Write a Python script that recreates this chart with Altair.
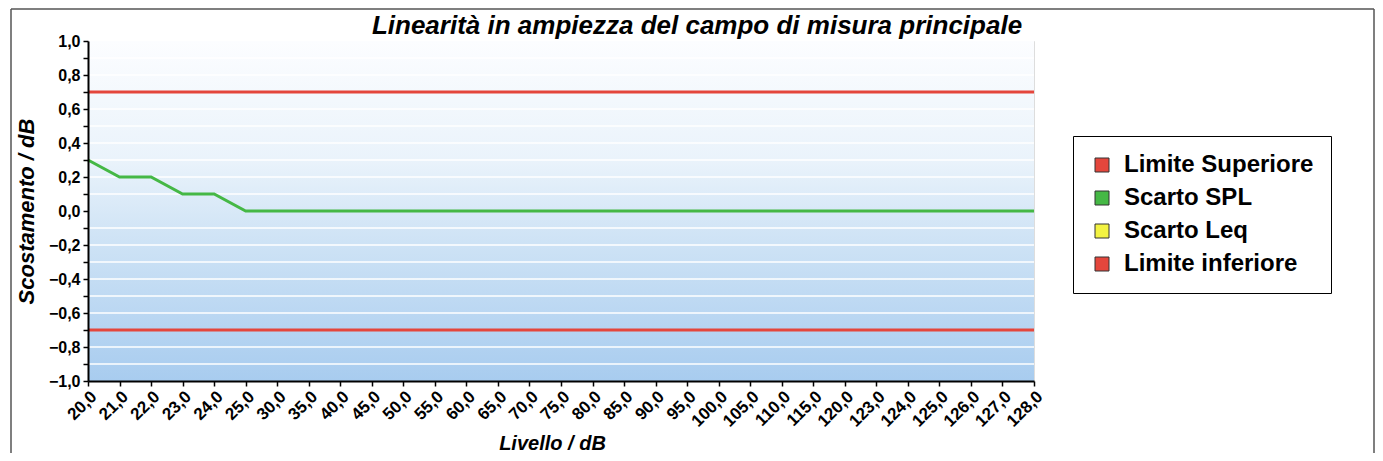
import altair as alt
import pandas as pd

levels = ["20,0", "21,0", "22,0", "23,0", "24,0", "25,0", "30,0", "35,0", "40,0", "45,0",
          "50,0", "55,0", "60,0", "65,0", "70,0", "75,0", "80,0", "85,0", "90,0", "95,0",
          "100,0", "105,0", "110,0", "115,0", "120,0", "123,0", "124,0", "125,0", "126,0",
          "127,0", "128,0"]
limite_superiore = [0.7] * len(levels)
scarto_spl = [0.3, 0.2, 0.2, 0.1, 0.1, 0.0, 0.0, 0.0, 0.0, 0.0,
              0.0, 0.0, 0.0, 0.0, 0.0, 0.0, 0.0, 0.0, 0.0, 0.0,
              0.0, 0.0, 0.0, 0.0, 0.0, 0.0, 0.0, 0.0, 0.0, 0.0, 0.0]
limite_inferiore = [-0.7] * len(levels)

series_names = ["Limite Superiore", "Scarto SPL", "Scarto Leq", "Limite inferiore"]
series_colors = ["#e4463c", "#45b845", "#f3f342", "#e4463c"]
y_ticks = [-1.0, -0.9, -0.8, -0.7, -0.6, -0.5, -0.4, -0.3, -0.2, -0.1, 0.0,
           0.1, 0.2, 0.3, 0.4, 0.5, 0.6, 0.7, 0.8, 0.9, 1.0]
grid_values = [-0.9, -0.8, -0.6, -0.5, -0.4, -0.3, -0.2, -0.1,
               0.1, 0.2, 0.3, 0.4, 0.5, 0.6, 0.8, 0.9]
title_text = "Linearità in ampiezza del campo di misura principale"

rows = []
for name, vals in [("Limite Superiore", limite_superiore),
                   ("Scarto SPL", scarto_spl),
                   ("Limite inferiore", limite_inferiore)]:
    for lv, v in zip(levels, vals):
        rows.append({"level": lv, "series": name, "value": v})
df = pd.DataFrame(rows)
legend_df = pd.DataFrame({"voce": series_names})

bg = pd.DataFrame({"lo": [-1.0], "hi": [1.0]})
grid_df = pd.DataFrame({"g": grid_values})
one = pd.DataFrame({"a": [0]})

yscale = alt.Scale(domain=[-1.0, 1.0], nice=False, zero=False)
xscale = alt.Scale(padding=0)

yaxis = alt.Axis(
    values=y_ticks,
    labelExpr="round(datum.value*10) % 2 != 0 ? '' : replace(format(datum.value, '.1f'), '.', ',')",
    grid=False,
    tickSize=5, tickColor="black", tickWidth=1.5,
    domainColor="black", domainWidth=2,
    labelFont="Arial", labelFontSize=16, labelFontWeight="bold", labelColor="black",
    labelPadding=3,
    title="Scostamento / dB",
    titleFont="Arial", titleFontSize=22, titleFontWeight="bold", titleFontStyle="italic",
    titleColor="black", titlePadding=10,
    zindex=1,
)

xaxis = alt.Axis(labelAngle=-45, labelFont="Arial", labelFontSize=17,
                 labelFontWeight="bold", labelColor="black", labelPadding=2,
                 tickSize=5, tickColor="black", tickWidth=1.5,
                 domainColor="black", domainWidth=2, grid=False,
                 title="Livello / dB", titleFont="Arial", titleFontSize=20,
                 titleFontWeight="bold", titleFontStyle="italic", titleColor="black",
                 titleX=464, titleY=52, titleBaseline="top", titleAlign="center",
                 zindex=1)

gradient = alt.Gradient(
    gradient="linear",
    stops=[alt.GradientStop(color="#fcfdff", offset=0),
           alt.GradientStop(color="#eaf3fb", offset=0.35),
           alt.GradientStop(color="#d2e5f6", offset=0.55),
           alt.GradientStop(color="#a8ccef", offset=1)],
    x1=0, x2=0, y1=0, y2=1,
)

background = alt.Chart(bg).mark_rect(fill=gradient).encode(
    x=alt.value(0), x2=alt.value("width"),
    y=alt.Y("lo:Q", scale=yscale, axis=yaxis),
    y2="hi:Q",
)

grid = alt.Chart(grid_df).mark_rule(color="white", strokeWidth=1.5).encode(
    y=alt.Y("g:Q", scale=yscale, axis=yaxis),
)

lines = alt.Chart(df).mark_line(strokeWidth=3).encode(
    x=alt.X("level:O", sort=levels, scale=xscale, axis=xaxis),
    y=alt.Y("value:Q", scale=yscale, axis=yaxis),
    color=alt.Color("series:N",
                    scale=alt.Scale(domain=series_names, range=series_colors),
                    legend=None),
    detail="series:N",
)

legend_layer = alt.Chart(legend_df).transform_filter("false").mark_square(
    size=196, filled=True, stroke="#333333", strokeWidth=1, opacity=1
).encode(
    fill=alt.Fill("voce:N",
                  scale=alt.Scale(domain=series_names, range=series_colors),
                  legend=alt.Legend(
                      title=None, orient="none", legendX=985, legendY=95,
                      symbolType="square", symbolSize=196, symbolOpacity=1,
                      symbolStrokeColor="#333333", symbolStrokeWidth=1,
                      labelFont="Arial", labelFontSize=24, labelFontWeight="bold",
                      labelColor="black", labelOffset=10, labelLimit=400,
                      fillColor="white",
                      padding=17, rowPadding=9)),
)

title_layer = alt.Chart(one).mark_text(
    text=title_text, font="Arial", fontSize=26, fontStyle="italic", fontWeight="bold",
    color="black", align="center", baseline="alphabetic",
).encode(x=alt.value(609), y=alt.value(-7))

frame_left = alt.Chart(one).mark_rule(color="#555555", strokeWidth=1.5).encode(
    x=alt.value(-77), y=alt.value(-32), y2=alt.value(420))
frame_top = alt.Chart(one).mark_rule(color="#555555", strokeWidth=1.5).encode(
    x=alt.value(-77), x2=alt.value(1286), y=alt.value(-32))
frame_right = alt.Chart(one).mark_rule(color="#555555", strokeWidth=1.5).encode(
    x=alt.value(1286), y=alt.value(-32), y2=alt.value(420))

chart = alt.layer(background, grid, lines, legend_layer, title_layer,
                  frame_left, frame_top, frame_right).properties(
    width=946, height=340,
    autosize=alt.AutoSizeParams(type="none"),
    padding={"left": 80, "top": 33, "right": 341, "bottom": 72},
).resolve_scale(fill="independent", color="independent").configure_view(
    stroke=None
).configure(background="white").configure_legend(
    strokeColor="black", strokeWidth=1
)

chart.save("out.html", embed_options={"renderer": "svg", "actions": False})
